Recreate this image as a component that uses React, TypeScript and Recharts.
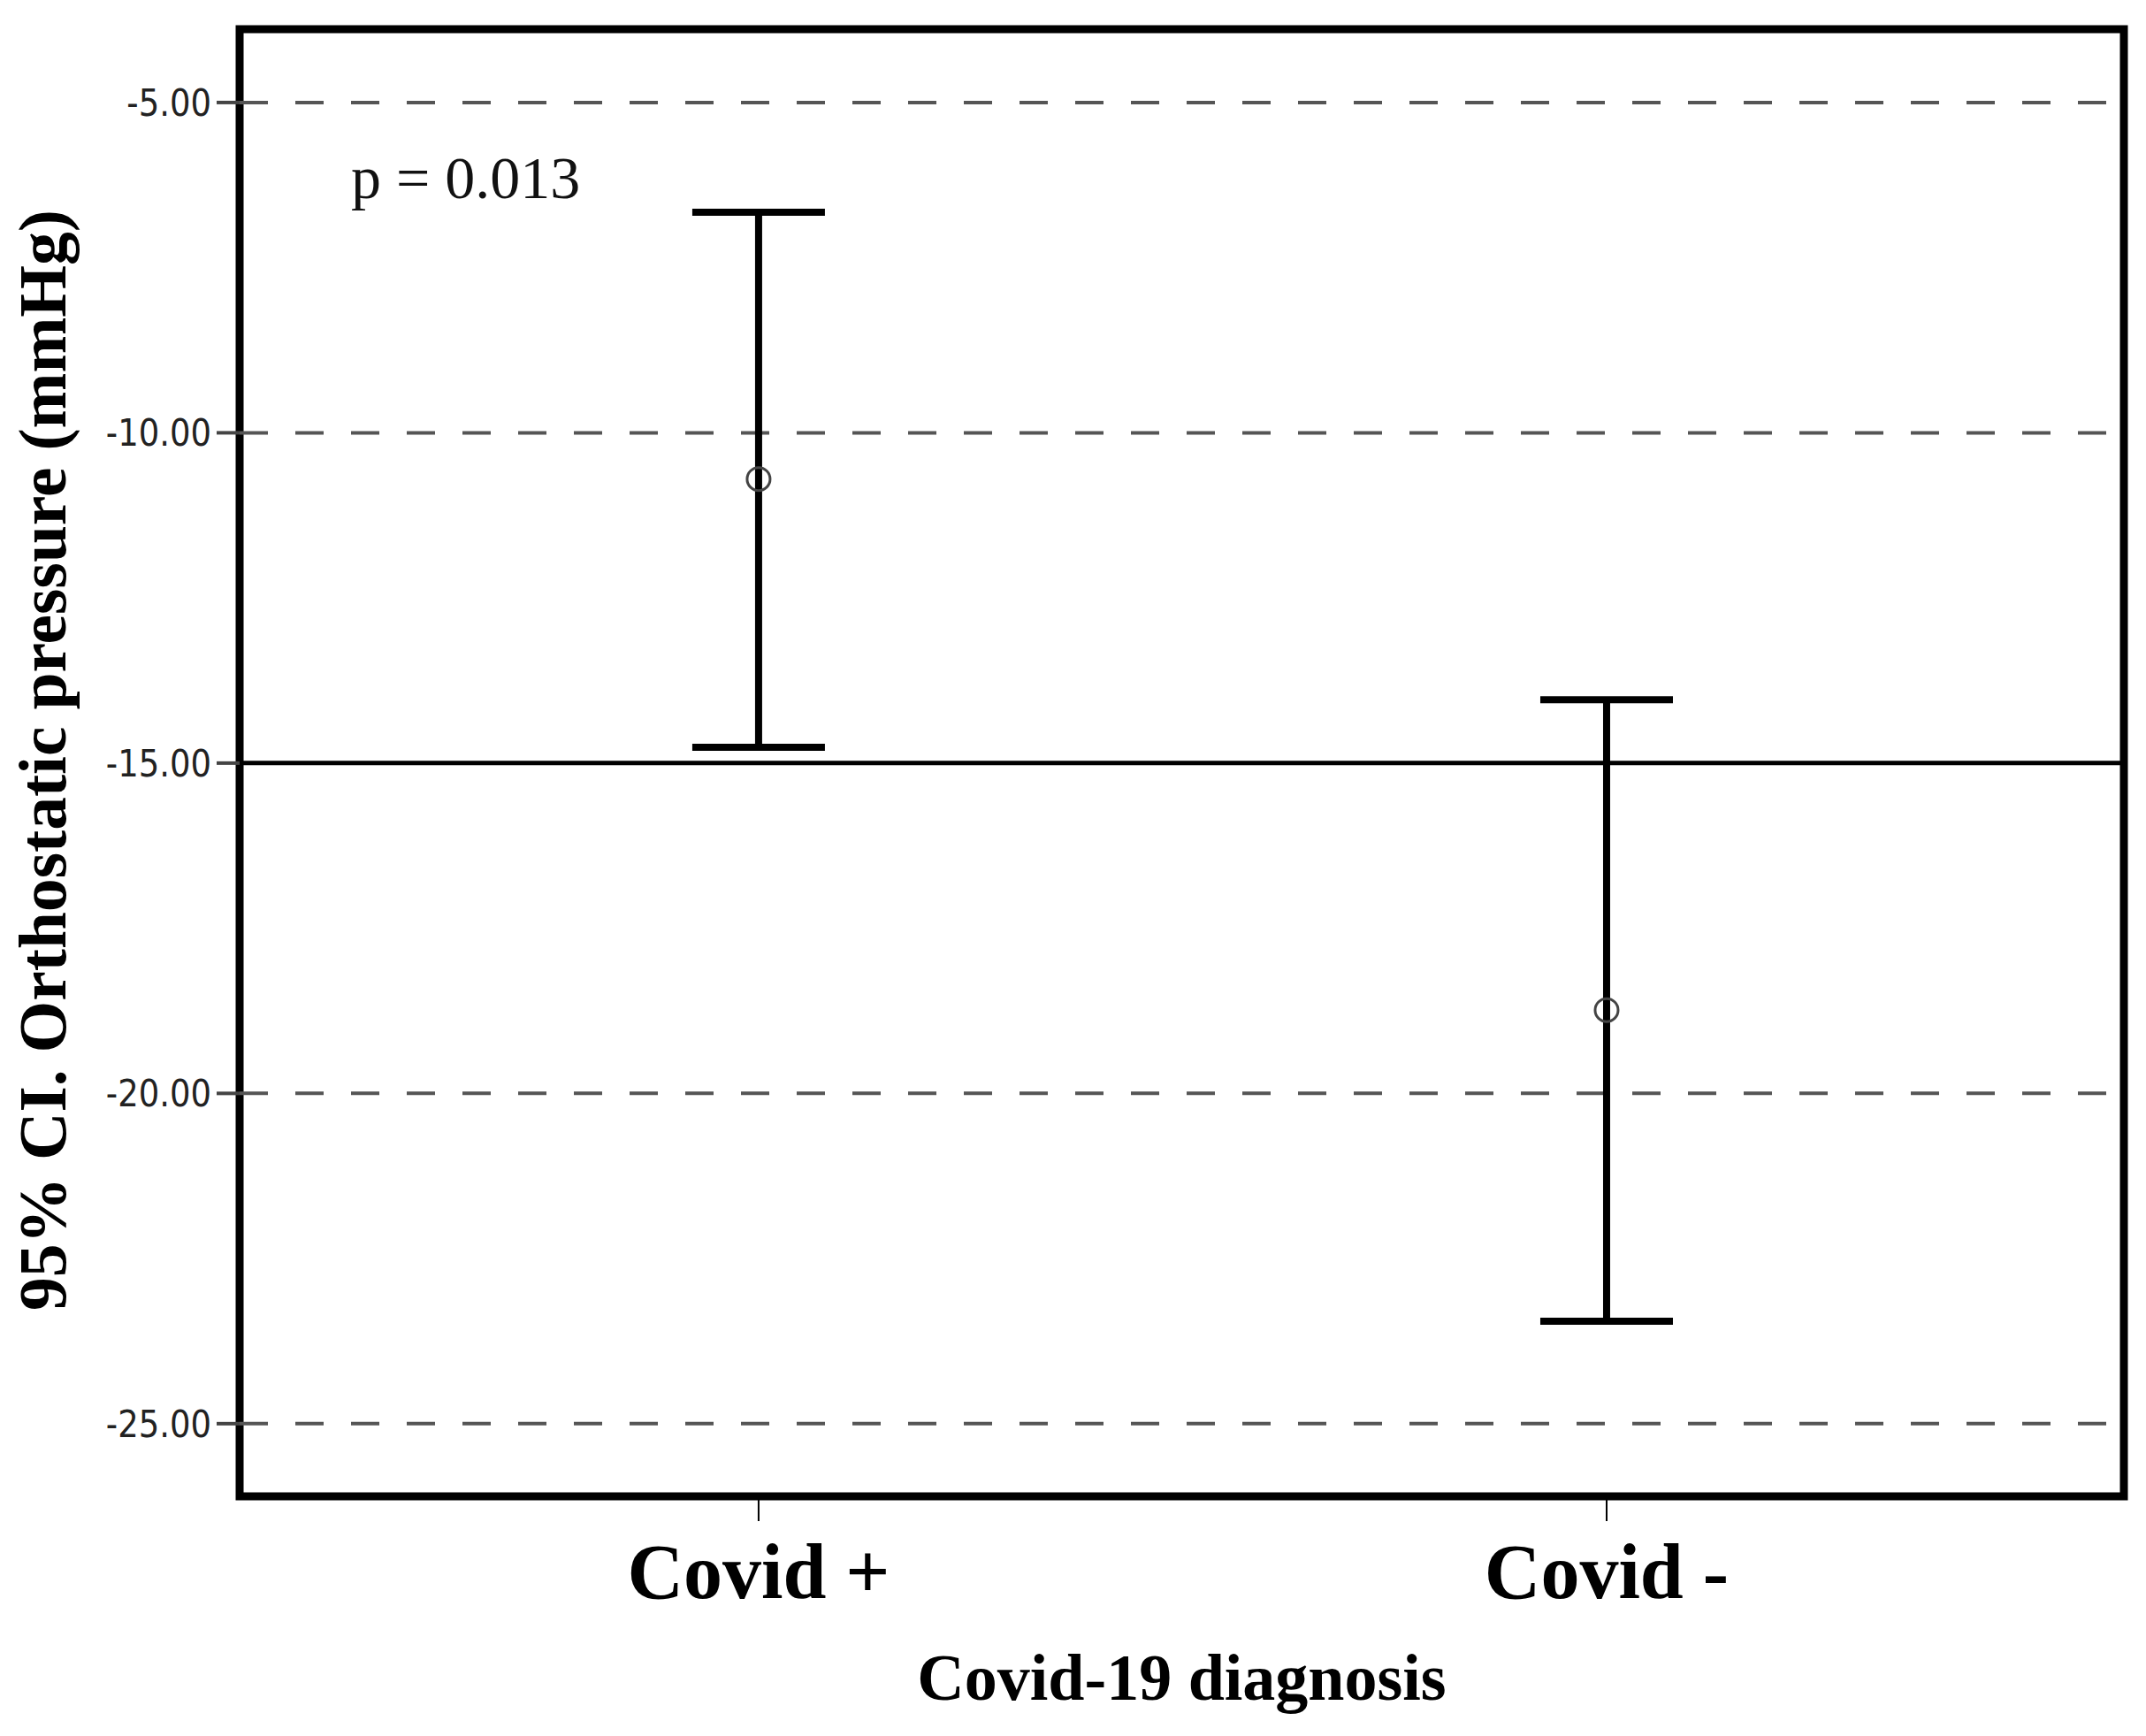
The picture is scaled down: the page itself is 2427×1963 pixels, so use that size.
import React from 'react';
import { ComposedChart, Scatter, ErrorBar, XAxis, YAxis, ReferenceLine, ReferenceArea } from 'recharts';

const categories = ['Covid +', 'Covid -'];
const categoryPositions = [1, 2];
const meanValues = [-10.7, -18.74];
const ciLower = [-14.76, -23.45];
const ciUpper = [-6.66, -14.04];
const yTicks = [-5, -10, -15, -20, -25];
const dashedGridValues = [-5, -10, -20, -25];
const solidReferenceValue = -15;
const yDomain: [number, number] = [-26.1, -3.89];
const xDomain: [number, number] = [0.388, 2.61];
const pValueText = 'p = 0.013';
const xAxisTitle = 'Covid-19 diagnosis';
const yAxisTitle = '95% CI. Orthostatic pressure (mmHg)';

const data = categoryPositions.map((x, i) => ({
  x,
  mean: meanValues[i],
  err: [meanValues[i] - ciLower[i], ciUpper[i] - meanValues[i]],
}));

const SERIF = '"Liberation Serif", "Times New Roman", serif';

const MeanMarker = (props: any) => {
  const { cx, cy } = props;
  if (cx == null || cy == null) return null;
  return <circle cx={cx} cy={cy} r={13} fill="none" stroke="#444" strokeWidth={3} />;
};

const YTick = (props: any) => {
  const { x, y, payload } = props;
  return (
    <g transform={`translate(${x},${y}) scale(0.86,1)`}>
      <text
        x={0}
        y={0}
        dy={15}
        textAnchor="end"
        fontFamily='"DejaVu Sans", sans-serif'
        fontSize={43}
        fill="#222"
      >
        {Number(payload.value).toFixed(2)}
      </text>
    </g>
  );
};

const YTitle = (props: any) => {
  const vb = props.viewBox || {};
  const cy = (vb.y ?? 33) + (vb.height ?? 1659) / 2 - 3;
  const x = 74;
  return (
    <g>
      <text
        x={x}
        y={cy}
        transform={`rotate(-90, ${x}, ${cy})`}
        textAnchor="middle"
        fontFamily={SERIF}
        fontWeight="bold"
        fontSize={75.5}
        fill="#000"
      >
        {yAxisTitle}
      </text>
      <text x={397} y={224} fontFamily={SERIF} fontSize={68} fill="#111">
        {pValueText}
      </text>
    </g>
  );
};

const XTitle = (props: any) => {
  const vb = props.viewBox || {};
  const cx = (vb.x ?? 271) + (vb.width ?? 2131) / 2;
  return (
    <text x={cx} y={1922} textAnchor="middle" fontFamily={SERIF} fontWeight="bold" fontSize={74} fill="#000">
      {xAxisTitle}
    </text>
  );
};

export default function App() {
  return (
    <div style={{ position: 'absolute', left: 0, top: 0, width: 2427, height: 1963, background: '#fff' }}>
      <ComposedChart width={2427} height={1963} data={data} margin={{ top: 33, right: 25, bottom: 0, left: 0 }}>
        <XAxis
          dataKey="x"
          type="number"
          domain={xDomain}
          ticks={categoryPositions}
          tickFormatter={(v: number) => categories[categoryPositions.indexOf(v)] ?? ''}
          allowDataOverflow
          height={271}
          axisLine={false}
          tickLine={{ stroke: '#000', strokeWidth: 2 }}
          tickSize={28}
          tickMargin={25}
          tick={{ fontSize: 88, fontFamily: SERIF, fontWeight: 'bold', fill: '#000' }}
          label={<XTitle />}
        />
        <YAxis
          type="number"
          domain={yDomain}
          ticks={yTicks}
          allowDataOverflow
          width={271}
          axisLine={false}
          tickLine={{ stroke: '#444', strokeWidth: 4 }}
          tickSize={26}
          tickMargin={6}
          tick={<YTick />}
          label={<YTitle />}
        />
        {dashedGridValues.map((v) => (
          <ReferenceLine key={v} y={v} stroke="#555" strokeWidth={4} strokeDasharray="32 31" />
        ))}
        <ReferenceLine y={solidReferenceValue} stroke="#000" strokeWidth={5} />
        <Scatter dataKey="mean" isAnimationActive={false} shape={<MeanMarker />}>
          <ErrorBar dataKey="err" direction="y" width={75} stroke="#000" strokeWidth={8} isAnimationActive={false} />
        </Scatter>
        <ReferenceArea
          x1={xDomain[0]}
          x2={xDomain[1]}
          y1={yDomain[0]}
          y2={yDomain[1]}
          fill="none"
          stroke="#000"
          strokeWidth={9}
          ifOverflow="visible"
        />
      </ComposedChart>
    </div>
  );
}
